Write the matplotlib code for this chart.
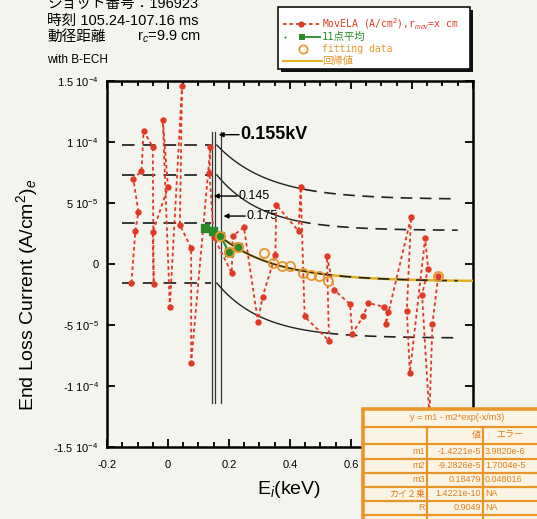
import numpy as np
import matplotlib
matplotlib.use("Agg")
import matplotlib.pyplot as plt
from matplotlib.patches import Rectangle
from matplotlib.lines import Line2D

plt.rcParams["mathtext.fontset"] = "custom"
plt.rcParams["mathtext.rm"] = "Liberation Sans"
plt.rcParams["mathtext.it"] = "Liberation Sans:italic"
plt.rcParams["mathtext.bf"] = "Liberation Sans:bold"
plt.rcParams["font.family"] = ["Liberation Sans", "Noto Sans CJK JP"]

W, H = 537, 519
BG = "#f4f4ef"
RED = "#e03a26"
GREEN = "#2a8a2a"
ORANGE = "#e8962c"
GOLD = "#e2b21e"
JP = ["Liberation Sans", "Noto Sans CJK JP"]
MONO = ["DejaVu Sans Mono", "Noto Sans CJK JP"]
U = 1e-5  # current values below are in units of 1e-5 A/cm^2

# MovELA end-loss current, in acquisition order
mov_e = [-0.120, -0.107, -0.097, -0.114, -0.087, -0.080, -0.050, -0.047, -0.050,
         0.000, -0.017, 0.006, 0.046, 0.039, 0.076, 0.076, 0.139, 0.136, 0.150,
         0.209, 0.212, 0.249, 0.295, 0.310, 0.352, 0.355, 0.428, 0.435, 0.448,
         0.528, 0.521, 0.544, 0.597, 0.604, 0.640, 0.657, 0.707, 0.720, 0.714,
         0.797, 0.783, 0.793, 0.843, 0.853, 0.833, 0.857, 0.867, 0.886]
mov_j = [-1.56, 2.7, 4.3, 7.0, 7.6, 10.9, 9.6, -1.6, 2.6,
         6.3, 11.8, -3.5, 14.6, 3.2, 1.3, -8.1, 9.6, 7.5, 2.2,
         -0.74, 2.3, 3.0, -4.75, -2.7, 0.74, 4.85, 2.7, 6.3, -4.3,
         -6.3, 0.66, -2.1, -3.3, -5.7, -4.3, -3.2, -3.5, -3.9, -4.9,
         3.85, -3.85, -8.9, 2.1, -0.4, -2.5, -12.5, -4.9, -1.0]

# 11-point running average
avg_e = [0.122, 0.149, 0.172, 0.199, 0.229]
avg_j = [2.95, 2.7, 2.3, 1.0, 1.4]

# points used in the fit
fitpt_e = [0.172, 0.199, 0.229, 0.315, 0.345, 0.375, 0.401, 0.441, 0.468, 0.494, 0.524, 0.886]
fitpt_j = [2.3, 1.0, 1.4, 0.9, 0.08, -0.16, -0.16, -0.74, -0.9, -1.0, -1.4, -1.0]

# fit y = m1 - m2*exp(-x/m3)
m1, m2, m3 = -1.4221e-5, -9.2826e-5, 0.18479

# cut-off potentials (kV)
cut_e = [0.145, 0.155, 0.175]
cut_lo, cut_hi = -11.4, 10.8

# reference levels and decaying envelopes
level_j = [9.75, 7.3, 3.36, -1.56]
band_start = [9.75, 7.3, -1.56]
band_tail = [5.3, 2.75, -6.07]
band_tau = [0.17, 0.15, 0.15]
band_solid_end = [0.45, 0.43, 0.52]

# fit table
tbl_names = ["m1", "m2", "m3", "カイ２乗", "R"]
tbl_vals = ["-1.4221e-5", "-9.2826e-5", "0.18479", "1.4221e-10", "0.9049"]
tbl_errs = ["3.9820e-6", "1.7004e-5", "0.048016", "NA", "NA"]

fig = plt.figure(figsize=(W / 100, H / 100), dpi=100, facecolor=BG)
ax = fig.add_axes([107 / W, 1 - 447 / H, 366 / W, 366 / H], facecolor=BG)
ax.set_xlim(-0.2, 1.0)
ax.set_ylim(-1.5e-4, 1.5e-4)

# left reference levels
for lv in level_j:
    ax.plot([-0.15, 0.142], [lv * U, lv * U], color="#2a2a2a", lw=1.3,
            dashes=(7, 4.5), zorder=2)

# envelopes
x0 = 0.16
for s, t, tau, se in zip(band_start, band_tail, band_tau, band_solid_end):
    xs = np.linspace(x0, se, 80)
    xd = np.linspace(se, 0.95, 80)
    ax.plot(xs, (t + (s - t) * np.exp(-(xs - x0) / tau)) * U, color="#222", lw=1.0, zorder=2)
    ax.plot(xd, (t + (s - t) * np.exp(-(xd - x0) / tau)) * U, color="#222", lw=1.2,
            dashes=(7, 4.5), zorder=2)

# regression curve
xf = np.linspace(0.145, 1.0, 200)
ax.plot(xf, m1 - m2 * np.exp(-xf / m3), color=GOLD, lw=1.8, zorder=3)
xs = np.linspace(0.16, 0.5, 100)
xd = np.linspace(0.5, 0.95, 100)
ax.plot(xs, m1 - m2 * np.exp(-xs / m3), color="#222", lw=1.0, zorder=3.2)
ax.plot(xd, m1 - m2 * np.exp(-xd / m3), color="#222", lw=1.2, dashes=(7, 4.5), zorder=3.2)

# cut-off lines
for ce in cut_e:
    ax.plot([ce, ce], [cut_lo * U, cut_hi * U], color="#333", lw=0.9, zorder=3)

# MovELA series
ax.plot(mov_e, np.array(mov_j) * U, color=RED, lw=1.3, dashes=(2, 1.6),
        marker="o", ms=4.6, mec=RED, mfc=RED, mew=0, zorder=4)

# 11-point average
ax.plot(avg_e, np.array(avg_j) * U, color=GREEN, lw=1.5, marker="s", ms=6,
        mfc=GREEN, mec=GREEN, zorder=5)

# fitting data
ax.plot(fitpt_e, np.array(fitpt_j) * U, ls="none", marker="o", ms=6.6, mfc="none",
        mec=ORANGE, mew=1.3, zorder=6)

# cut-off annotations
arrow = dict(arrowstyle="-|>", color="k", lw=1.0, mutation_scale=7, shrinkA=0, shrinkB=0)
ax.annotate("", xy=(0.166, 10.6 * U), xytext=(0.233, 10.6 * U), arrowprops=arrow, zorder=7)
ax.text(0.238, 10.6 * U, "0.155kV", fontsize=13, fontweight="bold", va="center", ha="left")
ax.annotate("", xy=(0.150, 5.57 * U), xytext=(0.226, 5.57 * U), arrowprops=arrow, zorder=7)
ax.text(0.230, 5.57 * U, "0.145", fontsize=9, va="center", ha="left")
ax.annotate("", xy=(0.182, 3.93 * U), xytext=(0.253, 3.93 * U), arrowprops=arrow, zorder=7)
ax.text(0.257, 3.93 * U, "0.175", fontsize=9, va="center", ha="left")

# axes styling (labels under the fit table are left blank)
ax.set_xticks([-0.2, 0, 0.2, 0.4, 0.6, 0.8, 1.0])
ax.set_xticklabels(["-0.2", "0", "0.2", "0.4", "0.6", "", ""])
ax.set_xticks(np.arange(-0.2, 1.001, 0.05), minor=True)
yt = [-1.5e-4, -1e-4, -5e-5, 0, 5e-5, 1e-4, 1.5e-4]
ax.set_yticks(yt)
ax.set_yticklabels([r"-1.5 10$^{-4}$", r"-1 10$^{-4}$", r"-5 10$^{-5}$", "0",
                    r"5 10$^{-5}$", r"1 10$^{-4}$", r"1.5 10$^{-4}$"])
ax.tick_params(which="both", direction="in", top=True, right=True, width=1.3)
ax.tick_params(which="major", length=6, labelsize=8)
ax.tick_params(axis="x", which="major", pad=9)
ax.tick_params(axis="y", which="major", pad=6)
ax.tick_params(which="minor", length=3.5)
for sp in ax.spines.values():
    sp.set_linewidth(1.8)

fig.text(27 / W, 1 - 295 / H, r"End Loss Current (A/cm$^2$)$_e$", rotation=90,
         ha="center", va="center", fontsize=14)
fig.text(289 / W, 1 - 490 / H, r"E$_i$(keV)", ha="center", va="center", fontsize=14)

# header text
fig.text(47 / W, 1 - 8 / H, "ショット番号：196923", fontsize=10.5, va="baseline", family=JP)
fig.text(47 / W, 1 - 25 / H, "時刻 105.24-107.16 ms", fontsize=10.5, va="baseline", family=JP)
fig.text(47 / W, 1 - 41 / H, "動径距離", fontsize=10.5, va="baseline", family=JP)
fig.text(137 / W, 1 - 41 / H, r"r$_c$=9.9 cm", fontsize=10.5, va="baseline")
fig.text(47 / W, 1 - 63 / H, "with B-ECH", fontsize=8.5, va="baseline")

# legend box
lg = fig.add_axes([0, 0, 1, 1], facecolor="none")
lg.set_xlim(0, W)
lg.set_ylim(H, 0)
lg.axis("off")
lg.add_patch(Rectangle((281, 10), 192, 62, facecolor="#111", edgecolor="none"))
lg.add_patch(Rectangle((278, 7), 192, 62, facecolor="white", edgecolor="#111", lw=1.2))
lg.add_line(Line2D([283, 320], [24, 24], color=RED, lw=1.3, dashes=(2, 1.6)))
lg.add_line(Line2D([301], [24], color=RED, marker="o", ms=4.5, mew=0))
lg.text(322, 24, r"MovELA (A/cm$^2$),r$_{mov}$=x cm", color=RED, fontsize=7,
        va="center", family="DejaVu Sans Mono")
lg.add_line(Line2D([285], [37], color=GREEN, marker="o", ms=1.5, mew=0))
lg.add_line(Line2D([302, 320], [37, 37], color=GREEN, lw=1.3))
lg.add_line(Line2D([302], [37], color=GREEN, marker="s", ms=5, mew=0))
lg.text(322, 37, "11点平均", color=GREEN, fontsize=7.5, va="center", family=MONO)
lg.add_line(Line2D([303], [49], color=ORANGE, marker="o", ms=6, mfc="none", mew=1.2))
lg.text(322, 49, "fitting data", color=ORANGE, fontsize=7, va="center", family=MONO)
lg.add_line(Line2D([283, 322], [61, 61], color=GOLD, lw=1.5))
lg.text(322, 61, "回帰値", color=ORANGE, fontsize=7.5, va="center", family=MONO)

# fit results table
tb = fig.add_axes([363 / W, 0, (551 - 363) / W, (519 - 409) / H], facecolor="none")
tb.set_xlim(363, 551)
tb.set_ylim(519, 409)
tb.axis("off")
tb.set_zorder(10)
tb.add_patch(Rectangle((363, 409), 188, 112, facecolor="#fbf4e4", edgecolor=ORANGE,
                       lw=2.6, clip_on=False))
rows = [427, 444, 458.5, 473, 487, 501, 515]
for ry in rows:
    tb.plot([363, 551], [ry, ry], color=ORANGE, lw=1.6, clip_on=False)
for cx in [427, 483]:
    tb.plot([cx, cx], [427, 519], color=ORANGE, lw=1.6, clip_on=False)
TCOL = "#df7f1e"
tb.text(457, 418, "y = m1 - m2*exp(-x/m3)", color=TCOL, fontsize=6.5, ha="center", va="center")
tb.text(481, 435.5, "値", color=TCOL, fontsize=6.5, ha="right", va="center", family=JP)
tb.text(510, 435.5, "エラー", color=TCOL, fontsize=6.5, ha="center", va="center", family=JP)
for i, (n, v, e) in enumerate(zip(tbl_names, tbl_vals, tbl_errs)):
    yc = (rows[i + 1] + rows[i + 2]) / 2
    tb.text(425, yc, n, color=TCOL, fontsize=6.5, ha="right", va="center", family=JP)
    tb.text(481, yc, v, color=TCOL, fontsize=6.5, ha="right", va="center")
    tb.text(485, yc, e, color=TCOL, fontsize=6.5, ha="left", va="center")

fig.savefig("out.png", dpi=100, facecolor=BG)
